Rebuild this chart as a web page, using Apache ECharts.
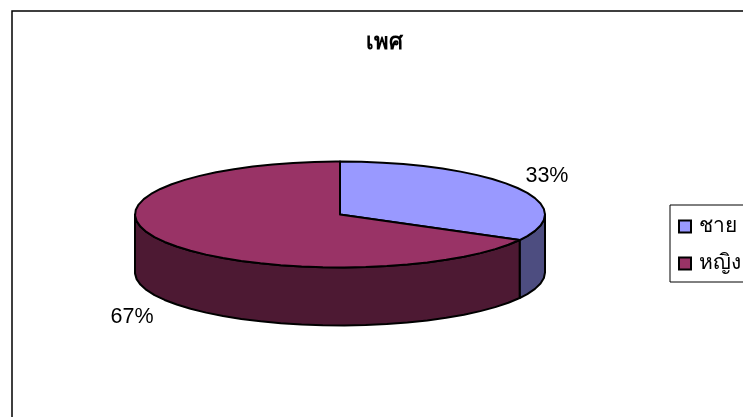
<!DOCTYPE html>
<html><head><meta charset="utf-8">
<style>html,body{margin:0;padding:0;background:#fff}#c{width:743px;height:417px}</style>
<script src="https://cdn.jsdelivr.net/npm/echarts@6/dist/echarts.min.js"></script>
</head><body><div id="c"></div>
<script>
const categories = ['ชาย', 'หญิง'];
const values = [33, 67];
const colors = ['#9999FF', '#993366'];
const sideColors = ['#4D4D80', '#4D1933'];
const titleText = 'เพศ';

const geo = {cx: 340, cy: 214.5, rx: 205, ry: 53, depth: 58, step: 6};
const total = values.reduce((a, b) => a + b, 0);
const FONT = '"Liberation Sans", Arial, sans-serif';
const THAI = '"Noto Sans", "Liberation Sans", sans-serif';

function pt(deg, dy) {
  const r = deg * Math.PI / 180;
  return [geo.cx + geo.rx * Math.sin(r), geo.cy - geo.ry * Math.cos(r) + (dy || 0)];
}
function arc(a0, a1, dy) {
  const out = [];
  for (let a = a0; a < a1; a += geo.step) out.push(pt(a, dy));
  out.push(pt(a1, dy));
  return out;
}
function makeRender(index) {
  return function (params, api) {
    const v = api.value(0);
    let before = 0;
    for (let i = 0; i < index; i++) before += values[i];
    const a0 = before / total * 360, a1 = (before + v) / total * 360;
    const children = [];
    const s0 = Math.max(a0, 90), s1 = Math.min(a1, 270);
    if (s1 > s0) {
      const top = arc(s0, s1, 0), bot = arc(s0, s1, geo.depth).reverse();
      children.push({type: 'polygon', shape: {points: top.concat(bot)},
        style: {fill: sideColors[index], stroke: '#000', lineWidth: 2, lineJoin: 'round'}});
    }
    children.push({type: 'polygon', shape: {points: [[geo.cx, geo.cy]].concat(arc(a0, a1, 0))},
      style: {fill: colors[index], stroke: '#000', lineWidth: 2, lineJoin: 'round'}});
    const mid = (a0 + a1) / 2, r = mid * Math.PI / 180;
    const front = Math.cos(r) < 0 ? 1 : 0;
    children.push({type: 'text', style: {
      text: Math.round(v / total * 100) + '%',
      x: geo.cx + (geo.rx + 36) * Math.sin(r) - 0.5,
      y: geo.cy - (geo.ry + 24.5) * Math.cos(r) + front * (geo.depth + 4) + 1,
      align: 'center', verticalAlign: 'middle', font: '21.5px ' + FONT, fill: '#000'}});
    return {type: 'group', children};
  };
}
const chart = echarts.init(document.getElementById('c'), null, {renderer: 'canvas'});
chart.setOption({
  animation: false,
  backgroundColor: '#fff',
  title: {text: titleText, left: 361, top: 27,
    textStyle: {fontFamily: THAI, fontSize: 22, fontWeight: 'bold', color: '#000'}},
  legend: {
    orient: 'vertical', left: 670, top: 205, data: categories,
    icon: 'rect', itemWidth: 12, itemHeight: 12, itemGap: 16,
    padding: [11, 40, 8, 8], borderColor: '#000', borderWidth: 1, backgroundColor: '#fff',
    itemStyle: {borderColor: '#000', borderWidth: 2},
    textStyle: {fontFamily: THAI, fontSize: 21, color: '#000', padding: [0, 0, 0, 3], height: 20, lineHeight: 20}
  },
  graphic: [{type: 'rect', z: -10, silent: true,
    shape: {x: 12, y: 11, width: 900, height: 600},
    style: {fill: '#fff', stroke: '#000', lineWidth: 1.5}}],
  series: categories.map((name, i) => ({
    type: 'custom', name, coordinateSystem: 'none', clip: false,
    itemStyle: {color: colors[i]},
    data: [[values[i]]],
    renderItem: makeRender(i)
  }))
});
</script></body></html>
